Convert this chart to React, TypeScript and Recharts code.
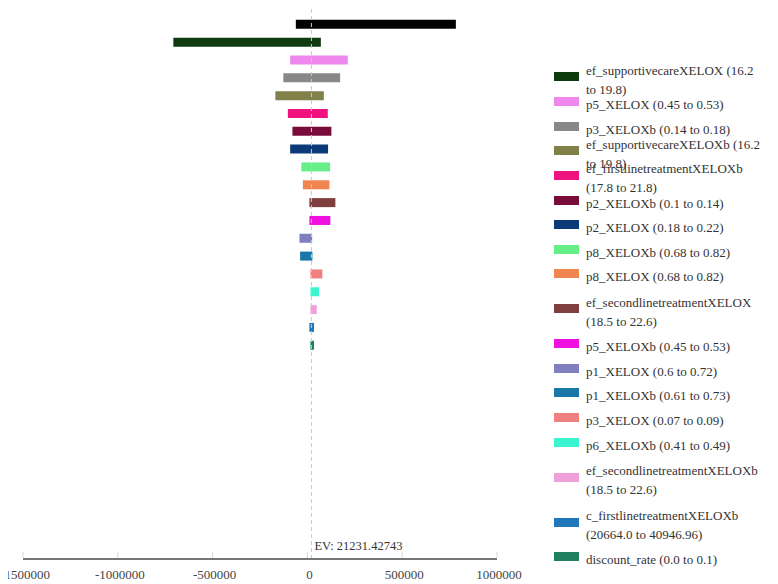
import React from 'react';
import { BarChart, Bar, XAxis, YAxis, ReferenceLine, Cell } from 'recharts';

// Parameters in tornado order (top to bottom)
const parameters = [
  'unlabeled',
  'ef_supportivecareXELOX',
  'p5_XELOX',
  'p3_XELOXb',
  'ef_supportivecareXELOXb',
  'ef_firstlinetreatmentXELOXb',
  'p2_XELOXb',
  'p2_XELOX',
  'p8_XELOXb',
  'p8_XELOX',
  'ef_secondlinetreatmentXELOX',
  'p5_XELOXb',
  'p1_XELOX',
  'p1_XELOXb',
  'p3_XELOX',
  'p6_XELOXb',
  'ef_secondlinetreatmentXELOXb',
  'c_firstlinetreatmentXELOXb',
  'discount_rate',
];

const parameterRanges = [
  '',
  '(16.2 to 19.8)',
  '(0.45 to 0.53)',
  '(0.14 to 0.18)',
  '(16.2 to 19.8)',
  '(17.8 to 21.8)',
  '(0.1 to 0.14)',
  '(0.18 to 0.22)',
  '(0.68 to 0.82)',
  '(0.68 to 0.82)',
  '(18.5 to 22.6)',
  '(0.45 to 0.53)',
  '(0.6 to 0.72)',
  '(0.61 to 0.73)',
  '(0.07 to 0.09)',
  '(0.41 to 0.49)',
  '(18.5 to 22.6)',
  '(20664.0 to 40946.96)',
  '(0.0 to 0.1)',
];

const lowValues = [
  -61000, -707000, -91000, -127000, -169000, -103000, -79000, -91000, -32000, -24000,
  10500, 10500, -42000, -38500, 16000, 16000, 16000, 10500, 16000,
];

const highValues = [
  783000, 71000, 213000, 172500, 86500, 107500, 126500, 109000, 119500, 116000,
  147500, 121000, 25000, 26500, 79000, 61500, 49500, 35000, 35000,
];

const barColors = [
  '#000000', '#0d3b0d', '#ee88ee', '#888888', '#808048', '#f0127e', '#7a0c3c', '#0c3a78',
  '#66ee88', '#f08550', '#7f3f3f', '#f010e0', '#8080c0', '#1a78a8', '#f08080', '#3cf5d0',
  '#f0a0d8', '#1f78b8', '#208060',
];

const xTicks = [-1500000, -1000000, -500000, 0, 500000, 1000000];
const expectedValue = 21231.42743;
const evLabel = 'EV: 21231.42743';

// legend layout (presentation only)
const tallLegendItems = new Set([
  'ef_secondlinetreatmentXELOX',
  'ef_secondlinetreatmentXELOXb',
  'c_firstlinetreatmentXELOXb',
]);

const data = parameters.map((name, i) => ({
  name,
  range: [lowValues[i], highValues[i]],
}));

const serif = '"Liberation Serif", "Times New Roman", serif';

const AxisTick = (props: any) => {
  const { x, y, payload } = props;
  const axisY = y - 5;
  return (
    <g>
      <line x1={x} x2={x} y1={axisY - 7} y2={axisY - 1} stroke="#d8d8d8" strokeWidth={1} />
      <text
        x={x + 2}
        y={y + 14.5}
        textAnchor="middle"
        fill="#444"
        fontSize={13}
        fontFamily={serif}
      >
        {payload.value}
      </text>
    </g>
  );
};

const EvLabel = (props: any) => {
  const vb = props.viewBox || {};
  return (
    <text
      x={vb.x + 3}
      y={vb.y + vb.height - 9}
      fill="#333"
      fontSize={12.5}
      fontFamily={serif}
    >
      {evLabel}
    </text>
  );
};

export default function App() {
  const legendItems = parameters
    .map((name, i) => ({ name, label: `${name} ${parameterRanges[i]}`, color: barColors[i] }))
    .filter((d) => d.name !== 'unlabeled');

  return (
    <div
      style={{
        position: 'relative',
        width: 778,
        height: 584,
        margin: '-8px 0 0 -8px',
        background: '#fff',
        overflow: 'hidden',
      }}
    >
      <BarChart
        width={778}
        height={584}
        data={data}
        layout="vertical"
        margin={{ top: 0, right: 281, bottom: 0, left: 23 }}
      >
        <XAxis
          type="number"
          domain={[-1500000, 1000000]}
          ticks={xTicks}
          interval={0}
          allowDataOverflow
          height={25}
          stroke="#777"
          strokeWidth={2}
          tickLine={false}
          tickSize={0}
          tickMargin={5}
          tick={<AxisTick />}
        />
        <YAxis type="category" dataKey="name" hide padding={{ top: 15.8, bottom: 204.4 }} />
        <Bar dataKey="range" barSize={9} isAnimationActive={false}>
          {data.map((d, i) => (
            <Cell key={d.name} fill={barColors[i]} />
          ))}
        </Bar>
        <ReferenceLine
          x={expectedValue}
          stroke="#c8c8c8"
          strokeDasharray="4 3"
          label={<EvLabel />}
        />
      </BarChart>
      <div
        style={{
          position: 'absolute',
          left: 554,
          top: 64.4,
          width: 215,
          fontFamily: serif,
          fontSize: 13,
          color: '#333',
        }}
      >
        {legendItems.map((item) => (
          <div
            key={item.name}
            style={{
              display: 'flex',
              alignItems: 'center',
              height: tallLegendItems.has(item.name) ? 45 : 24.66,
            }}
          >
            <div
              style={{ width: 25, height: 9, background: item.color, flex: '0 0 auto' }}
            />
            <div style={{ marginLeft: 7, width: 176, lineHeight: '19px', paddingTop: 6 }}>
              {item.label}
            </div>
          </div>
        ))}
      </div>
    </div>
  );
}
